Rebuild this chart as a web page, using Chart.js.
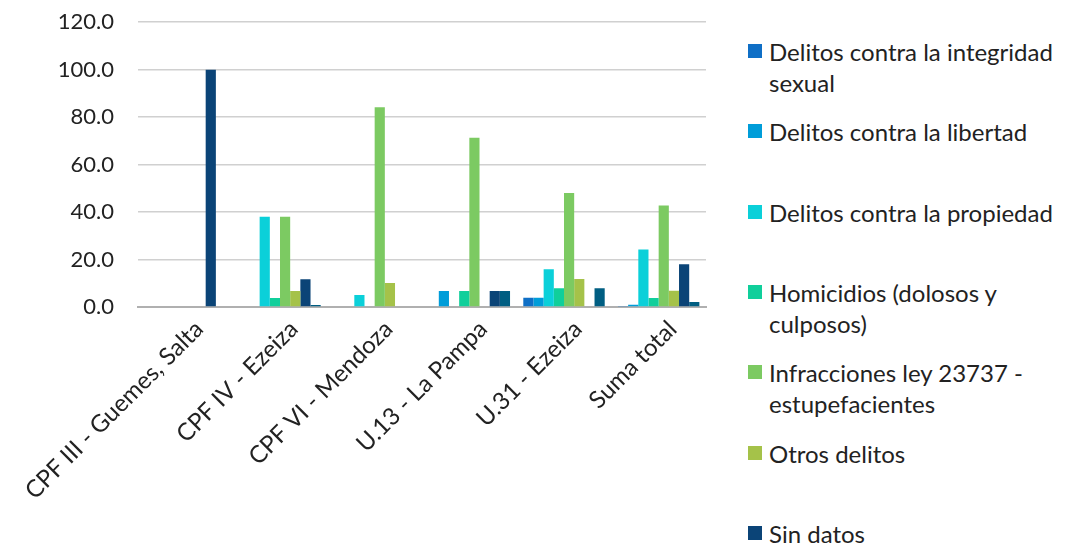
<!DOCTYPE html>
<html>
<head>
<meta charset="utf-8">
<script src="https://cdn.jsdelivr.net/npm/chart.js@4.4.0/dist/chart.umd.min.js"></script>
<style>
  body { margin: 0; background: #fff; }
  #wrap { position: relative; width: 1068px; height: 544px; overflow: hidden; font-family: Lato, "Noto Sans", sans-serif; }
  #chart_box { position: absolute; left: 0; top: -15px; width: 720px; height: 559px; }
  #legend { position: absolute; left: 748px; top: 0; width: 320px; }
  .item { position: absolute; left: 0; width: 320px; }
  .sw { position: absolute; left: 0; top: 8px; width: 14px; height: 14px; }
  .txt { margin-left: 21px; width: 298px; font-size: 24px; line-height: 31px; color: #222; }
</style>
</head>
<body>
<div id="wrap">
  <div id="chart_box"><canvas id="crimes_graph" width="720" height="559"></canvas></div>
  <div id="legend"></div>
</div>
<script>
// categorias (unidades penitenciarias)
let categories = ['CPF III - Guemes, Salta', 'CPF IV - Ezeiza', 'CPF VI - Mendoza', 'U.13 - La Pampa', 'U.31 - Ezeiza', 'Suma total'];

// porcentajes por tipo de delito
let integridad   = [0, 0, 0, 0, 3.9, 0.4];
let libertad     = [0, 0, 0, 6.7, 3.9, 0.9];
let propiedad    = [0, 38.0, 5.1, 0, 15.9, 24.2];
let homicidios   = [0, 3.8, 0, 6.7, 7.9, 3.8];
let infracciones = [0, 38.0, 84.2, 71.3, 48.0, 42.8];
let otros        = [0, 6.7, 10.1, 0, 11.8, 6.8];
let sinDatos     = [100, 11.7, 0, 6.7, 0, 18.0];
let enBlanco     = [0, 0.8, 0, 6.7, 7.9, 2.1];

let seriesNames = ['Delitos contra la integridad sexual', 'Delitos contra la libertad', 'Delitos contra la propiedad',
    'Homicidios (dolosos y culposos)', 'Infracciones ley 23737 - estupefacientes', 'Otros delitos', 'Sin datos', '(en blanco)'];
let yTicks = [0, 20, 40, 60, 80, 100, 120];

let colors = ['#0f6fc6', '#009dd9', '#0bd0d9', '#10cf9b', '#7cca62', '#a5c249', '#0b4477', '#005e82'];
let values = [integridad, libertad, propiedad, homicidios, infracciones, otros, sinDatos, enBlanco];

let datasets = [];
for (let i = 0; i < values.length; i++) {
    datasets.push({
        label: seriesNames[i],
        backgroundColor: colors[i],
        borderWidth: 0,
        data: values[i],
        categoryPercentage: 0.86,
        barPercentage: 1.0
    });
}

let ctx = document.getElementById('crimes_graph').getContext('2d');
window.crimes_chart = new Chart(ctx, {
    type: 'bar',
    data: { labels: categories, datasets: datasets },
    options: {
        responsive: false,
        animation: false,
        layout: { padding: { top: 11, right: 14, left: 0, bottom: 0 } },
        plugins: { legend: { display: false }, tooltip: { enabled: false } },
        scales: {
            y: {
                min: 0, max: 120,
                afterBuildTicks: function(scale) { scale.ticks = yTicks.map(v => ({ value: v })); },
                afterFit: function(scale) { scale.width = 138; },
                ticks: {
                    font: { family: 'Lato', size: 22 },
                    color: '#222',
                    padding: 24,
                    callback: function(v) { return Number(v).toFixed(1); }
                },
                grid: { color: '#d0d0d0', lineWidth: 1.5, drawTicks: false },
                border: { display: false }
            },
            x: {
                afterFit: function(scale) { scale.height = 237; },
                ticks: {
                    font: { family: 'Lato', size: 24 },
                    color: '#222',
                    maxRotation: 45, minRotation: 45,
                    autoSkip: false,
                    padding: 0,
                    labelOffset: 14
                },
                grid: { display: false },
                border: { color: '#b0b0b0', width: 2 }
            }
        }
    }
});

// leyenda a la derecha, en columna
let legend = document.getElementById('legend');
for (let i = 0; i < datasets.length; i++) {
    let item = document.createElement('div');
    item.className = 'item';
    item.style.top = (36 + 80.3 * i) + 'px';
    item.innerHTML = '<div class="sw" style="background:' + datasets[i].backgroundColor + '"></div>' +
        '<div class="txt">' + datasets[i].label + '</div>';
    legend.appendChild(item);
}
</script>
</body>
</html>
